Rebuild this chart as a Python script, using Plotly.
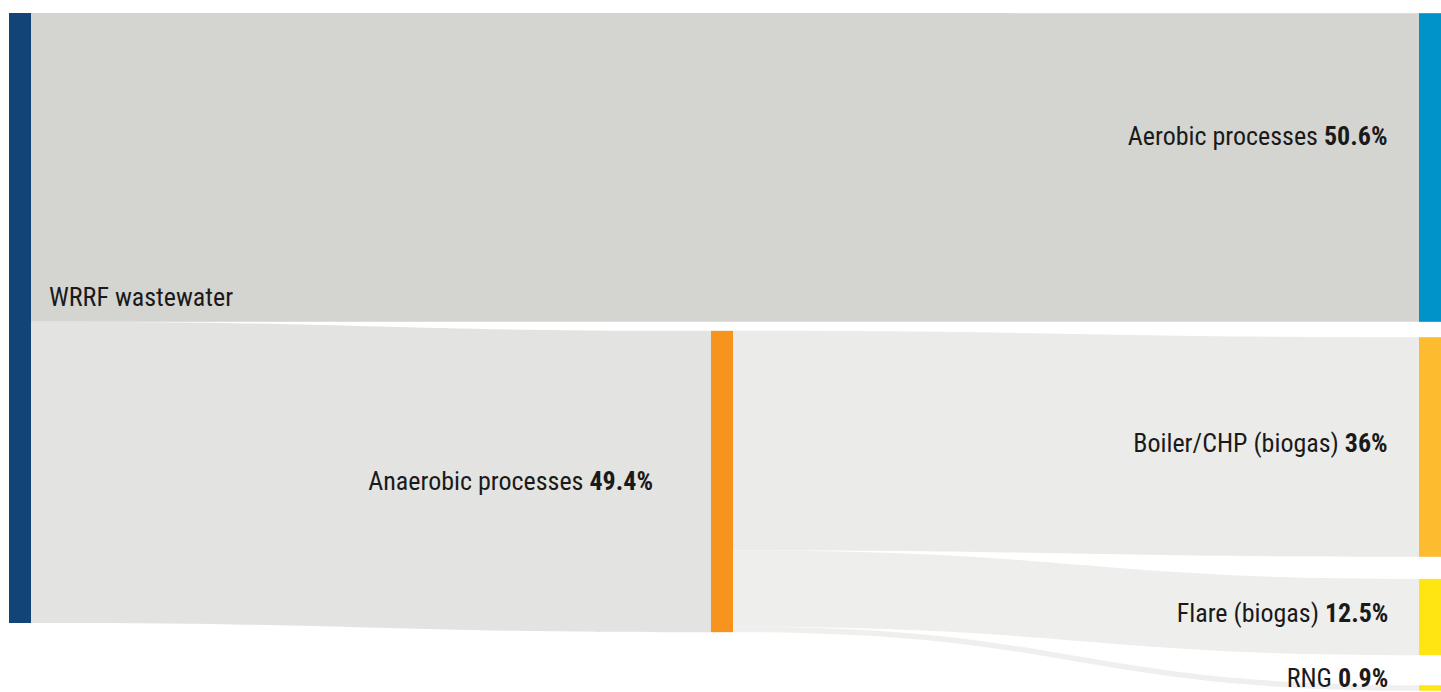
import plotly.graph_objects as go

# Flow shares (% of total WRRF wastewater emissions)
node_names = ["WRRF wastewater", "Aerobic processes", "Anaerobic processes",
              "Boiler/CHP (biogas)", "Flare (biogas)", "RNG"]
node_shares = [None, 50.6, 49.4, 36, 12.5, 0.9]
node_colors = ["#134478", "#0093c9", "#f7941d", "#fdbb30", "#ffe512", "#ffe512"]

link_source = [0, 0, 2, 2, 2]
link_target = [1, 2, 3, 4, 5]
link_values = [50.6, 49.4, 36, 12.5, 0.9]
link_colors = ["#d4d5d0", "#e3e3e1", "#ebebe9", "#eeeeec", "#efefed"]

# Figure geometry (pixels)
W, H = 1441, 692
M_L, M_T = 9, 13
PLOT_W, PLOT_H = W - M_L, H - M_T
THICK = 22

# Node centres in pixels, measured inside the plot area
node_cx = [THICK / 2, PLOT_W - THICK / 2, 713, PLOT_W - THICK / 2,
           PLOT_W - THICK / 2, PLOT_W - THICK / 2]
node_cy = [305, 154.5, 468.5, 434, 604, 675]

# Label anchors in page pixels: (x, y, side)
label_pos = [(47, 297, "left"), (1390, 136, "right"), (655, 481, "right"),
             (1390, 443, "right"), (1390, 613, "right"), (1390, 678, "right")]


def fmt(v):
    return f"{v:g}%"


labels = [name if share is None else f"{name} <b>{fmt(share)}</b>"
          for name, share in zip(node_names, node_shares)]

fig = go.Figure(go.Sankey(
    arrangement="fixed",
    hoverinfo="none",
    node=dict(
        label=[""] * len(node_names),
        color=node_colors,
        thickness=THICK,
        pad=23,
        x=[cx / PLOT_W for cx in node_cx],
        y=[cy / PLOT_H for cy in node_cy],
        line=dict(width=0),
        hoverinfo="none",
    ),
    link=dict(
        source=link_source,
        target=link_target,
        value=link_values,
        color=link_colors,
        hoverinfo="none",
    ),
))

# Labels as paper-space annotations (paper space = plot area)
for text, (lx, ly, side) in zip(labels, label_pos):
    fig.add_annotation(
        text=text,
        x=(lx - M_L) / PLOT_W, y=(H - ly) / PLOT_H,
        xref="paper", yref="paper",
        xanchor=side, yanchor="middle", align=side,
        showarrow=False,
        font=dict(family="Roboto, sans-serif", size=26, color="#1a1a1a"),
    )

fig.update_layout(
    width=W,
    height=H,
    margin=dict(l=M_L, r=0, t=M_T, b=0),
    paper_bgcolor="white",
)

# Narrow the label face (Roboto's width axis)
condense = """
document.querySelectorAll('.annotation-text').forEach(function (t) {
  t.style.fontStretch = 'condensed';
});
"""

fig.write_html("out.html", post_script=condense)
